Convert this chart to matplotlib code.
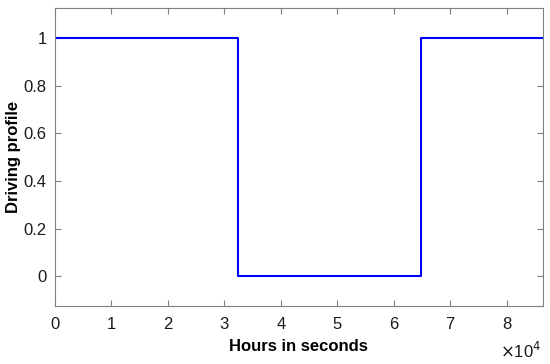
import numpy as np
import matplotlib.pyplot as plt

# step profile: time in seconds, driving on/off
t_sec = [0, 32400, 32400, 64800, 64800, 86400]
profile = [1, 1, 0, 0, 1, 1]

xtick_vals = [0, 1, 2, 3, 4, 5, 6, 7, 8]
ytick_vals = [0, 0.2, 0.4, 0.6, 0.8, 1]

plt.rcParams['font.family'] = ['Liberation Sans', 'DejaVu Sans']

fig = plt.figure(figsize=(5.5, 3.64), dpi=100)
ax = fig.add_axes([0.1, 0.159, 0.887, 0.819])
ax.plot(t_sec, profile, color='#0000ff', linewidth=1.5)

ax.set_xlim(0, 86400)
ax.set_ylim(-0.125, 1.125)
ax.set_xticks([v * 1e4 for v in xtick_vals])
ax.set_xticklabels([str(v) for v in xtick_vals])
ax.set_yticks(ytick_vals)
ax.set_yticklabels(['0', '0.2', '0.4', '0.6', '0.8', '1'])

gray = '#808080'
for s in ax.spines.values():
    s.set_color(gray)
    s.set_linewidth(0.8)
ax.tick_params(direction='in', top=True, right=True, length=4, color=gray,
               labelsize=12, labelcolor='#1a1a1a', pad=6)
ax.tick_params(axis='x', pad=8)

ax.set_xlabel('Hours in seconds', fontsize=12, fontweight='bold', labelpad=5)
ax.set_ylabel('Driving profile', fontsize=12, fontweight='bold', labelpad=2)
fig.text(0.985, 0.008, r'$\times$10$^4$', ha='right', va='bottom', fontsize=12,
         color='#1a1a1a')

plt.savefig('out.png', dpi=100)
